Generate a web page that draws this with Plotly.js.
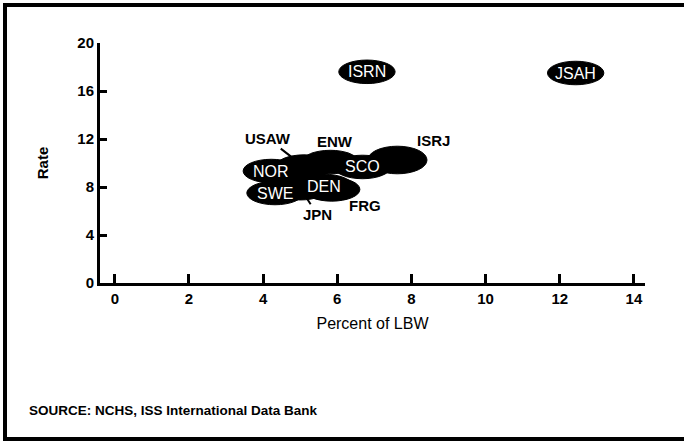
<!DOCTYPE html>
<html>
<head>
<meta charset="utf-8">
<script src="https://cdn.plot.ly/plotly-3.0.1.min.js"></script>
<style>html,body{margin:0;padding:0;background:#fff;}#chart{width:684px;height:441px;}</style>
</head>
<body>
<div id="chart"></div>
<script>
// Data
const countries = ['ENW','USAW','NOR','SWE','JPN','FRG','DEN','SCO','ISRJ','ISRN','JSAH'];
const lbw  = [5.81, 5.10, 4.22, 4.32, 5.00, 5.85, 5.65, 6.68, 7.62, 6.80, 12.43];
const rate = [10.08, 9.70, 9.33, 7.50, 7.90, 7.80, 8.08, 9.67, 10.25, 17.60, 17.50];
const xTicks = [0, 2, 4, 6, 8, 10, 12, 14];
const yTicks = [0, 4, 8, 12, 16, 20];

// Label placement (style): inside ellipse or outside with offset (px)
const labelStyle = {
  ENW:  {inside:false, dx:5,  dy:-21},
  USAW: {inside:false, dx:-36, dy:-28, arrow:true},
  NOR:  {inside:true},
  SWE:  {inside:true},
  JPN:  {inside:false, dx:17, dy:26, arrow:true},
  FRG:  {inside:false, dx:33, dy:16},
  DEN:  {inside:true},
  SCO:  {inside:true},
  ISRJ: {inside:false, dx:36, dy:-20},
  ISRN: {inside:true},
  JSAH: {inside:true}
};

const L = 100, R = 39, T = 43, B = 158, W = 684, H = 441;
const pw = W - L - R, ph = H - T - B;
const rx = 0.76, ry = 0.98;
const FONT = 'Liberation Sans, Arial, sans-serif';

const shapes = [];
countries.forEach((c, i) => {
  let sx = rx, sy = ry;
  if (c === 'ISRJ') { sx = 0.8; sy = 1.15; }
  shapes.push({type:'circle', xref:'x', yref:'y',
    x0: lbw[i]-sx, x1: lbw[i]+sx, y0: rate[i]-sy, y1: rate[i]+sy,
    fillcolor:'#000', line:{color:'#000', width:1}, layer:'above'});
});
// frame
const px = v => (v - L) / pw;
const py = v => 1 - (v - T) / ph;
shapes.push({type:'line', xref:'paper', yref:'paper', x0:px(5), x1:px(5), y0:py(3), y1:py(441), line:{color:'#000', width:4}});
shapes.push({type:'line', xref:'paper', yref:'paper', x0:px(3), x1:px(684), y0:py(5), y1:py(5), line:{color:'#000', width:4}});
shapes.push({type:'line', xref:'paper', yref:'paper', x0:px(3), x1:px(684), y0:py(439), y1:py(439), line:{color:'#000', width:4}});

const annotations = [];
countries.forEach((c, i) => {
  const s = labelStyle[c];
  if (s.inside) {
    annotations.push({x:lbw[i], y:rate[i], xref:'x', yref:'y', text:c, showarrow:false,
      font:{family:FONT, size:16, color:'#fff'}});
  } else if (s.arrow) {
    annotations.push({x:lbw[i], y:rate[i], xref:'x', yref:'y', text:'<b>'+c+'</b>', showarrow:true,
      arrowhead:0, arrowwidth:2, arrowcolor:'#000', ax:s.dx, ay:s.dy, standoff:0,
      font:{family:FONT, size:15, color:'#000'}});
  } else {
    annotations.push({x:lbw[i], y:rate[i], xref:'x', yref:'y', text:'<b>'+c+'</b>', showarrow:false,
      xshift:s.dx, yshift:-s.dy,
      font:{family:FONT, size:15, color:'#000'}});
  }
});
annotations.push({xref:'paper', yref:'paper', x:px(27), y:py(410), xanchor:'left', yanchor:'middle',
  text:'<b>SOURCE: NCHS, ISS International Data Bank</b>', showarrow:false,
  font:{family:FONT, size:13.5, color:'#000'}});

const trace = {x:lbw, y:rate, type:'scatter', mode:'markers', marker:{size:1, color:'rgba(0,0,0,0)'}, hoverinfo:'skip', showlegend:false};

const layout = {
  width:W, height:H, margin:{l:L, r:R, t:T, b:B},
  paper_bgcolor:'#fff', plot_bgcolor:'#fff', showlegend:false,
  font:{family:FONT, color:'#000'},
  xaxis:{range:[-0.4, 14.3], tickvals:xTicks, ticktext:xTicks.map(String), showgrid:false, zeroline:false,
    showline:true, linewidth:3, linecolor:'#000', ticks:'inside', ticklen:9, tickwidth:3, tickcolor:'#000',
    tickfont:{size:15, family:FONT, weight:'bold'},
    title:{text:'Percent of LBW', font:{size:16}, standoff:12}},
  yaxis:{range:[0, 20], tickvals:yTicks, ticktext:yTicks.map(String), showgrid:false, zeroline:false,
    showline:true, linewidth:3, linecolor:'#000', ticks:'inside', ticklen:7, tickwidth:3, tickcolor:'#000',
    tickfont:{size:15, family:FONT, weight:'bold'},
    title:{text:'<b>Rate</b>', font:{size:15}, standoff:26}},
  shapes:shapes, annotations:annotations
};
Plotly.newPlot('chart', [trace], layout, {staticPlot:true});
</script>
</body>
</html>
